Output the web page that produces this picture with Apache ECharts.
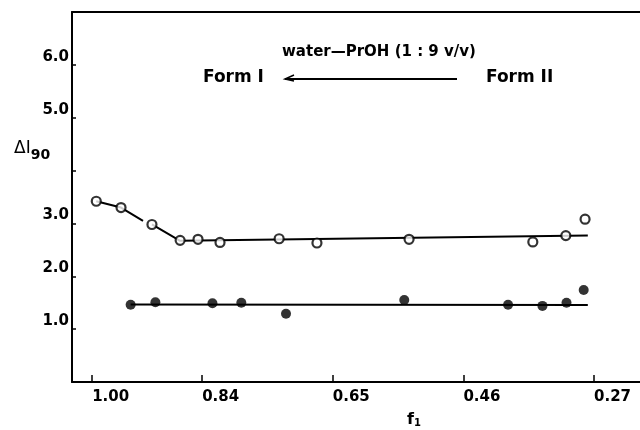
<!DOCTYPE html>
<html>
<head>
<meta charset="utf-8">
<title>ΔI90 vs f1</title>
<script src="https://cdn.jsdelivr.net/npm/echarts@6.0.0/dist/echarts.min.js"></script>
<style>
  html, body { margin: 0; padding: 0; background: #ffffff; }
  #chart { width: 640px; height: 430px; }
</style>
</head>
<body>
<div id="chart"></div>
<script>
// values
var openF = [0.994, 0.958, 0.913, 0.872, 0.846, 0.814, 0.728, 0.673, 0.539, 0.359, 0.311, 0.283]
var openDI = [3.42, 3.30, 2.98, 2.68, 2.70, 2.64, 2.71, 2.63, 2.70, 2.65, 2.77, 3.08]
var filledF = [0.944, 0.908, 0.825, 0.783, 0.718, 0.546, 0.395, 0.345, 0.310, 0.285]
var filledDI = [1.46, 1.51, 1.49, 1.50, 1.29, 1.55, 1.46, 1.44, 1.50, 1.74]

// hand-drawn guide lines
var openLineAF = [0.994, 0.958, 0.926]
var openLineADI = [3.42, 3.30, 3.05]
var openLineBF = [0.913, 0.872, 0.279]
var openLineBDI = [2.98, 2.67, 2.77]
var filledLineF = [0.944, 0.279]
var filledLineDI = [1.465, 1.455]

var xTicks = [1.00, 0.84, 0.65, 0.46, 0.27]
var yLabelled = [1, 2, 3, 5, 6]

function pairs (xs, ys) {
  return xs.map(function (x, i) { return [x, ys[i]] })
}

var font = 'DejaVu Sans'
var ink = '#000000'

var chart = echarts.init(document.getElementById('chart'), null, { renderer: 'canvas' })

var lineStyle = { color: ink, width: 2 }

chart.setOption({
  backgroundColor: '#ffffff',
  animation: false,
  grid: { left: 72, right: 0, top: 12, bottom: 48 },
  xAxis: [{
    type: 'value',
    inverse: true,
    min: 0.2031,
    max: 1.0293,
    axisLine: { onZero: false, lineStyle: { color: ink, width: 2 } },
    axisTick: { inside: true, length: 7, customValues: xTicks, lineStyle: { color: ink, width: 1.5 } },
    axisLabel: {
      customValues: xTicks,
      align: 'left',
      margin: 8,
      color: ink,
      fontFamily: font,
      fontWeight: 'bold',
      fontSize: 15,
      formatter: function (v) { return v.toFixed(2) }
    },
    splitLine: { show: false }
  }, {
    type: 'value',
    position: 'top',
    inverse: true,
    min: 0.2031,
    max: 1.0293,
    axisLine: { show: true, onZero: false, lineStyle: { color: ink, width: 2 } },
    axisTick: { show: false },
    axisLabel: { show: false },
    splitLine: { show: false }
  }],
  yAxis: {
    type: 'value',
    min: 0,
    max: 7,
    interval: 1,
    axisLine: { show: true, onZero: false, lineStyle: { color: ink, width: 2 } },
    axisTick: { show: true, inside: true, length: 4, lineStyle: { color: ink, width: 1.5 } },
    axisLabel: {
      margin: 3,
      color: ink,
      fontFamily: font,
      fontWeight: 'bold',
      fontSize: 15,
      verticalAlign: 'bottom',
      lineHeight: 16,
      formatter: function (v) {
        return yLabelled.indexOf(v) >= 0 ? v.toFixed(1) : ''
      }
    },
    splitLine: { show: false }
  },
  series: [
    { type: 'line', data: pairs(openLineAF, openLineADI), symbol: 'none', lineStyle: lineStyle, z: 1 },
    { type: 'line', data: pairs(openLineBF, openLineBDI), symbol: 'none', lineStyle: lineStyle, z: 1 },
    { type: 'line', data: pairs(filledLineF, filledLineDI), symbol: 'none', lineStyle: lineStyle, z: 1 },
    {
      type: 'scatter',
      data: pairs(openF, openDI),
      symbol: 'circle',
      symbolSize: 9,
      itemStyle: { color: '#ffffff', borderColor: ink, borderWidth: 2.2 },
      z: 3
    },
    {
      type: 'scatter',
      data: pairs(filledF, filledDI),
      symbol: 'circle',
      symbolSize: 10,
      itemStyle: { color: ink },
      z: 3
    }
  ],
  graphic: [
    {
      type: 'text',
      left: 282,
      top: 45,
      style: { text: 'water\u2014PrOH (1 : 9 v/v)', fill: ink, font: 'bold 15px "DejaVu Sans"' }
    },
    {
      type: 'text',
      left: 203,
      top: 69,
      style: { text: 'Form I', fill: ink, font: 'bold 17px "DejaVu Sans"' }
    },
    {
      type: 'text',
      left: 486,
      top: 69,
      style: { text: 'Form II', fill: ink, font: 'bold 17px "DejaVu Sans"' }
    },
    {
      type: 'line',
      shape: { x1: 285, y1: 79, x2: 457, y2: 79 },
      style: { stroke: ink, lineWidth: 1.8 }
    },
    {
      type: 'polyline',
      shape: { points: [[294, 75], [285, 79], [294, 81]] },
      style: { stroke: ink, lineWidth: 1.5, fill: null }
    },
    {
      type: 'text',
      left: 14,
      top: 140,
      style: {
        text: '{a|\u0394I}{b|90}',
        rich: {
          a: { fontFamily: font, fontSize: 17, fill: ink, verticalAlign: 'top' },
          b: { fontFamily: font, fontWeight: 'bold', fontSize: 14, fill: ink, padding: [8, 0, 0, 0] }
        }
      }
    },
    {
      type: 'text',
      left: 407,
      top: 412,
      style: {
        text: '{a|f}{b|1}',
        rich: {
          a: { fontFamily: font, fontWeight: 'bold', fontSize: 16, fill: ink },
          b: { fontFamily: font, fontWeight: 'bold', fontSize: 10, fill: ink, padding: [7, 0, 0, 0] }
        }
      }
    }
  ]
})
</script>
</body>
</html>
